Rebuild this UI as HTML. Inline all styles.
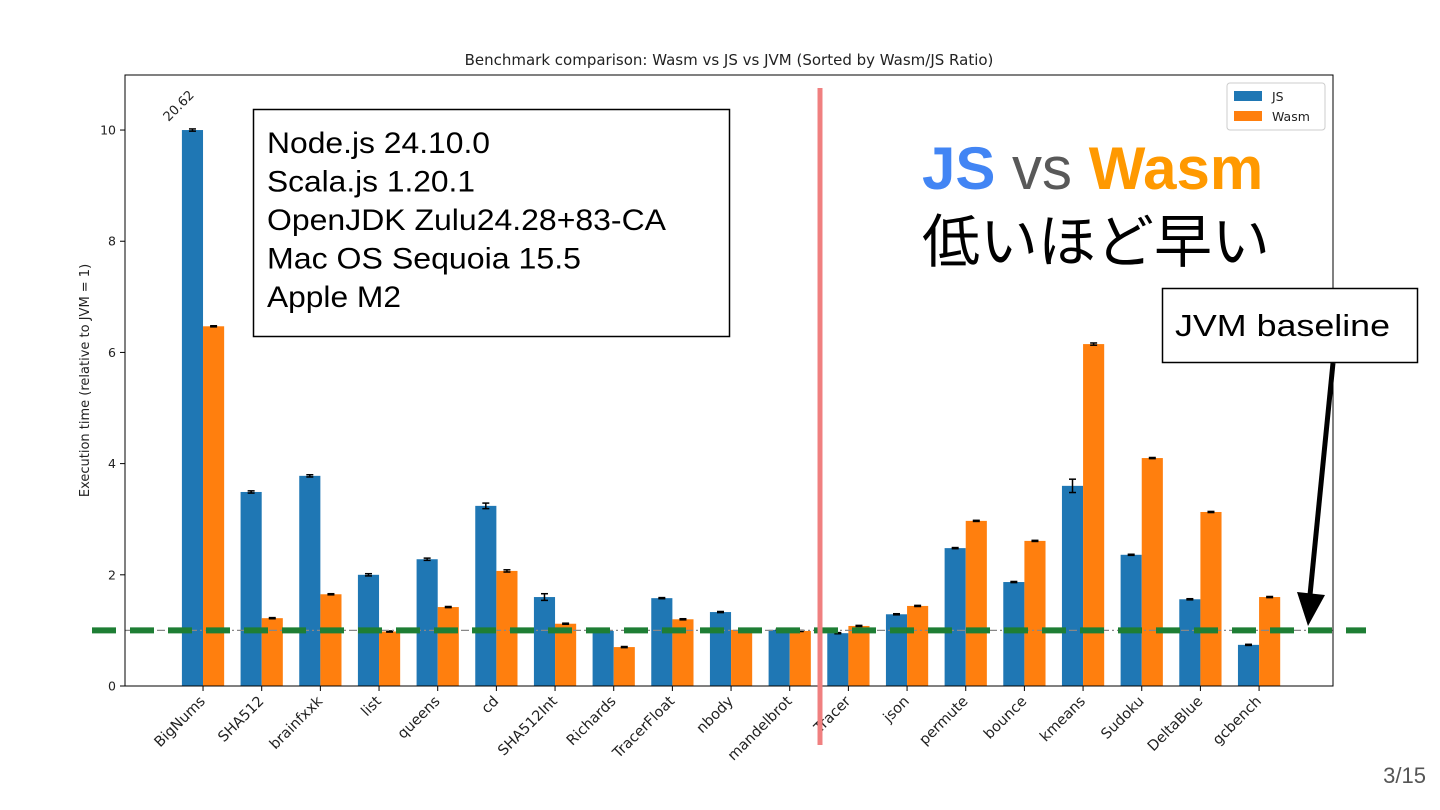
<!DOCTYPE html>
<html><head><meta charset="utf-8">
<style>
html,body{margin:0;padding:0;background:#fff;}
body{width:1440px;height:810px;overflow:hidden;position:relative;font-family:"Liberation Sans","Noto Sans CJK JP",sans-serif;}
svg{position:absolute;left:0;top:0;}
</style></head>
<body>
<svg id="chart" width="1440" height="810" xmlns="http://www.w3.org/2000/svg"></svg>
<script>
const categories=["BigNums","SHA512","brainfxxk","list","queens","cd","SHA512Int","Richards","TracerFloat","nbody","mandelbrot","Tracer","json","permute","bounce","kmeans","Sudoku","DeltaBlue","gcbench"];
const jsValues=[10,3.49,3.78,2.0,2.28,3.24,1.6,0.99,1.58,1.33,1.01,0.95,1.29,2.48,1.87,3.6,2.36,1.56,0.74];
const wasmValues=[6.47,1.22,1.65,0.98,1.42,2.07,1.12,0.70,1.2,1.01,0.99,1.08,1.44,2.97,2.61,6.15,4.1,3.13,1.6];
const jsErr=[0.02,0.02,0.02,0.02,0.02,0.05,0.06,0.01,0.01,0.01,0.01,0.01,0.01,0.01,0.01,0.12,0.01,0.01,0.01];
const wasmErr=[0.01,0.01,0.01,0.01,0.01,0.02,0.01,0.01,0.01,0.01,0.01,0.01,0.01,0.01,0.01,0.02,0.01,0.01,0.01];
const yTicks=[0,2,4,6,8,10];
const clipLabel="20.62";
const baseline=1.0;

const NS="http://www.w3.org/2000/svg";
const svg=document.getElementById('chart');
const L=125,R=1333,T=75,B=686;
const xmin=-1.33,xmax=19.26,ymin=0,ymax=10.99;
const xs=v=>L+(v-xmin)/(xmax-xmin)*(R-L);
const ys=v=>B-(v-ymin)/(ymax-ymin)*(B-T);
const bw=(xs(1)-xs(0))*0.36;
function mk(tag,attrs,parent){const e=document.createElementNS(NS,tag);for(const k in attrs)e.setAttribute(k,attrs[k]);(parent||svg).appendChild(e);return e;}
function txt(s,attrs,parent){const e=mk('text',attrs,parent);e.textContent=s;return e;}

let t=txt("Benchmark comparison: Wasm vs JS vs JVM (Sorted by Wasm/JS Ratio)",{x:(L+R)/2,y:65,'text-anchor':'middle','font-size':15,'font-family':'DejaVu Sans, sans-serif',fill:'#222'});


categories.forEach((c,i)=>{
  const jv=Math.min(jsValues[i],10), wv=Math.min(wasmValues[i],10);
  let b=mk('rect',{x:xs(i)-bw,y:ys(jv),width:bw,height:ys(0)-ys(jv),fill:'#1f77b4'});
  
  let w=mk('rect',{x:xs(i),y:ys(wv),width:bw,height:ys(0)-ys(wv),fill:'#ff7f0e'});
  
  [[xs(i)-bw/2,jv,jsErr[i]],[xs(i)+bw/2,wv,wasmErr[i]]].forEach(([cx,v,e])=>{
    const g=mk('g',{stroke:'#000','stroke-width':1.5});
    
    mk('line',{x1:cx,x2:cx,y1:ys(v+e),y2:ys(v-e)},g);
    mk('line',{x1:cx-3.5,x2:cx+3.5,y1:ys(v+e),y2:ys(v+e)},g);
    mk('line',{x1:cx-3.5,x2:cx+3.5,y1:ys(v-e),y2:ys(v-e)},g);
  });
  mk('line',{x1:xs(i),x2:xs(i),y1:B,y2:B+5,stroke:'#000','stroke-width':1});
  let lb=txt(c,{x:0,y:0,'text-anchor':'end','font-size':14.5,'font-family':'DejaVu Sans, sans-serif',fill:'#222',transform:`translate(${xs(i)+3},${B+16}) rotate(-45)`});
  
});
let cl=txt(clipLabel,{x:0,y:0,'font-size':13,'font-family':'DejaVu Sans, sans-serif',fill:'#222',transform:`translate(${xs(0)-bw/2-24},${ys(10)-8}) rotate(-45)`});


yTicks.forEach(v=>{
  mk('line',{x1:L-5,x2:L,y1:ys(v),y2:ys(v),stroke:'#000'});
  let tl=txt(String(v),{x:L-9,y:ys(v)+4.5,'text-anchor':'end','font-size':12.5,'font-family':'DejaVu Sans, sans-serif',fill:'#222'});
  
});
let yl=txt("Execution time (relative to JVM = 1)",{x:0,y:0,'text-anchor':'middle','font-size':13,'font-family':'DejaVu Sans, sans-serif',fill:'#222',transform:`translate(89,${(T+B)/2}) rotate(-90)`});


let gl=mk('line',{x1:L,x2:R,y1:ys(baseline),y2:ys(baseline),stroke:'#888','stroke-width':1.3,'stroke-dasharray':'8,3,2,3'});

let fr=mk('rect',{x:L,y:T,width:R-L,height:B-T,fill:'none',stroke:'#000','stroke-width':1});


const lg=mk('g',{});

mk('rect',{x:1227,y:83,width:98,height:47,fill:'#fff',stroke:'#ccc',rx:3},lg);
mk('rect',{x:1234,y:91,width:28,height:10,fill:'#1f77b4'},lg);
txt("JS",{x:1272,y:101,'font-size':12.5,'font-family':'DejaVu Sans, sans-serif',fill:'#222'},lg);
mk('rect',{x:1234,y:111,width:28,height:10,fill:'#ff7f0e'},lg);
txt("Wasm",{x:1272,y:121,'font-size':12.5,'font-family':'DejaVu Sans, sans-serif',fill:'#222'},lg);

let gd=mk('line',{x1:92,x2:1366,y1:ys(baseline),y2:ys(baseline),stroke:'#1e7e34','stroke-width':6,'stroke-dasharray':'24,14'});

let rl=mk('line',{x1:820,x2:820,y1:88,y2:745,stroke:'#f08080','stroke-width':5});


const ib=mk('g',{});

mk('rect',{x:253.5,y:109.5,width:476,height:227,fill:'#fff',stroke:'#000','stroke-width':1.5},ib);
const infoLines=["Node.js 24.10.0","Scala.js 1.20.1","OpenJDK Zulu24.28+83-CA","Mac OS Sequoia 15.5","Apple M2"];
const infoLens=[223,208,399,314,134];
infoLines.forEach((s,k)=>{
  txt(s,{x:267,y:153+k*38.5,'font-size':30,'font-family':'Liberation Sans, sans-serif',fill:'#000',textLength:infoLens[k],lengthAdjust:'spacingAndGlyphs'},ib);
});

const hd=txt("",{x:922,y:189,'font-size':60,'font-family':'Liberation Sans, sans-serif'});

const s1=mk('tspan',{fill:'#4285f4','font-weight':'bold'},hd);s1.textContent="JS";
const s2=mk('tspan',{fill:'#595959'},hd);s2.textContent=" vs ";
const s3=mk('tspan',{fill:'#ff9900','font-weight':'bold'},hd);s3.textContent="Wasm";
let jp=txt("低いほど早い",{x:922,y:262,'font-size':58,'font-family':'Liberation Sans, Noto Sans CJK JP, sans-serif',fill:'#000'});


const cb=mk('g',{});

mk('rect',{x:1162.5,y:288.5,width:255,height:74,fill:'#fff',stroke:'#000','stroke-width':1.5},cb);
txt("JVM baseline",{x:1175,y:336,'font-size':31,'font-family':'Liberation Sans, sans-serif',fill:'#000',textLength:215,lengthAdjust:'spacingAndGlyphs'},cb);
mk('line',{x1:1333,x2:1310,y1:363,y2:595,stroke:'#000','stroke-width':5},cb);
mk('polygon',{points:'1297,592 1325,595 1308,626',fill:'#000'},cb);

let pn=txt("3/15",{x:1426,y:783,'text-anchor':'end','font-size':22,'font-family':'Liberation Sans, sans-serif',fill:'#555'});

</script>
</body></html>
